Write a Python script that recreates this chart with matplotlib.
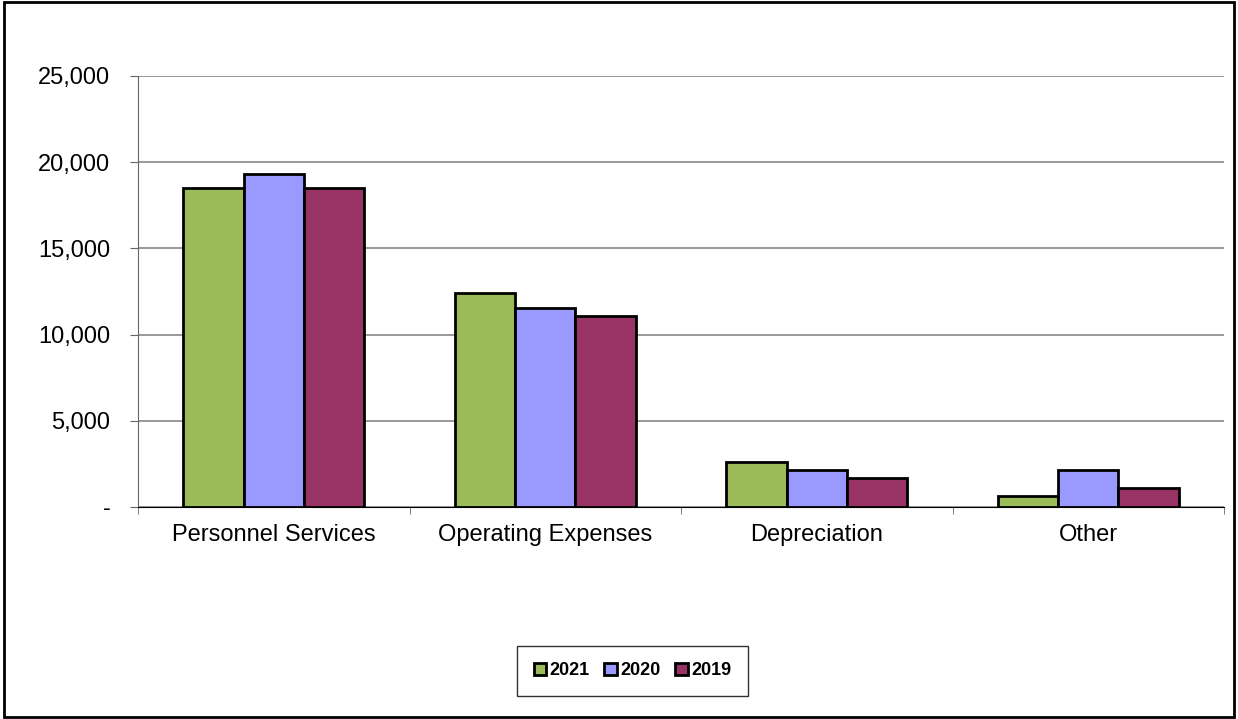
import matplotlib.pyplot as plt
import numpy as np
from matplotlib.patches import Rectangle
from matplotlib.ticker import FuncFormatter

plt.rcParams['font.family'] = ['Liberation Sans', 'DejaVu Sans']

categories = ['Personnel Services', 'Operating Expenses', 'Depreciation', 'Other']
years = ['2021', '2020', '2019']
v2021 = [18500, 12400, 2600, 650]
v2020 = [19300, 11550, 2150, 2150]
v2019 = [18500, 11050, 1700, 1100]
colors = ['#9BBB59', '#9999FF', '#993366']

fig = plt.figure(figsize=(12.38, 7.19), dpi=100)
ax = fig.add_axes([0.1115, 0.2949, 0.8772, 0.5994])

x = np.arange(len(categories))
w = 0.222
for i, (vals, lab, c) in enumerate(zip([v2021, v2020, v2019], years, colors)):
    ax.bar(x + (i - 1) * w, vals, w, color=c, edgecolor='black', linewidth=2,
           label=lab, zorder=3)

ax.set_xlim(-0.5, len(categories) - 0.5)
ax.set_ylim(0, 25000)
ax.set_yticks(range(0, 25001, 5000))
ax.yaxis.set_major_formatter(FuncFormatter(lambda v, p: '-' if v == 0 else f'{int(v):,}'))
ax.grid(axis='y', color='#999999', linewidth=1.4, zorder=0)

ax.set_xticks(x)
ax.set_xticklabels(categories)
ax.set_xticks(np.arange(-0.5, len(categories), 1), minor=True)
ax.tick_params(axis='x', which='major', length=0, pad=12, labelsize=17)
ax.tick_params(axis='x', which='minor', length=5, color='#666666', direction='out')
ax.tick_params(axis='y', length=6, color='#666666', labelsize=17, pad=14)

for s in ['top', 'right']:
    ax.spines[s].set_visible(False)
ax.spines['left'].set_color('#666666')
ax.spines['bottom'].set_color('black')

leg = fig.legend(loc='center', bbox_to_anchor=(0.511, 0.067), ncol=3,
                 frameon=True, fancybox=False, edgecolor='black',
                 prop={'weight': 'bold', 'size': 13}, handlelength=0.7,
                 handleheight=0.7, handletextpad=0.2, columnspacing=0.8,
                 borderpad=0.9)
leg.get_frame().set_linewidth(1)

fig.patches.append(Rectangle((0.003, 0.003), 0.994, 0.994, transform=fig.transFigure,
                             fill=False, edgecolor='black', linewidth=2))

fig.savefig('out.png', dpi=100)
